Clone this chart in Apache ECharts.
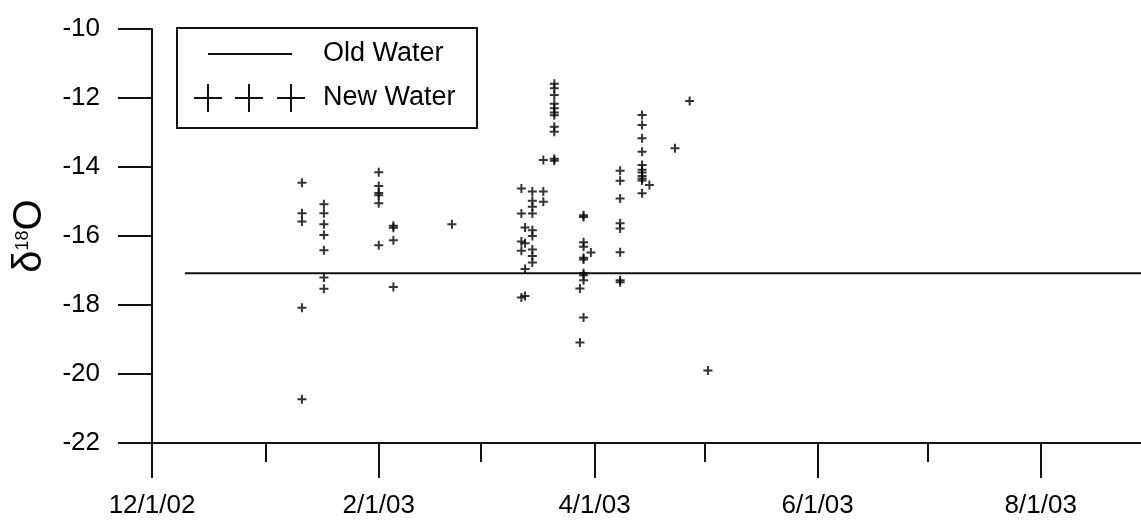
<!DOCTYPE html>
<html>
<head>
<meta charset="utf-8">
<script src="https://cdn.jsdelivr.net/npm/echarts@6/dist/echarts.min.js"></script>
<style>
  html, body { margin: 0; padding: 0; background: #fff; }
  #chart { width: 1141px; height: 521px; }
</style>
</head>
<body>
<div id="chart"></div>
<script>
// Sampling dates and measured delta-18O values of new water at each date
const sampleDates = [
  '2003-01-11', '2003-01-17', '2003-02-01', '2003-02-05', '2003-02-21',
  '2003-03-12', '2003-03-13', '2003-03-15', '2003-03-18', '2003-03-21',
  '2003-03-28', '2003-03-29', '2003-03-31', '2003-04-08', '2003-04-14',
  '2003-04-16', '2003-04-23', '2003-04-27', '2003-05-02'
];
const newWaterValues = [
  [-14.46, -15.34, -15.58, -18.08, -20.73],
  [-15.08, -15.34, -15.66, -15.97, -16.41, -17.20, -17.53],
  [-14.15, -14.55, -14.75, -14.82, -15.05, -16.27],
  [-15.70, -15.76, -16.12, -17.48],
  [-15.66],
  [-14.62, -15.35, -16.16, -16.43, -17.78],
  [-15.75, -16.21, -16.96, -17.74],
  [-14.71, -14.98, -15.15, -15.35, -15.83, -16.00, -16.39, -16.58, -16.77],
  [-13.80, -14.71, -15.01],
  [-11.59, -11.72, -11.91, -12.17, -12.30, -12.42, -12.50, -12.83, -12.98, -13.76, -13.82],
  [-17.52, -19.09],
  [-15.40, -15.45, -16.18, -16.31, -16.63, -16.68, -17.08, -17.14, -17.28, -18.36],
  [-16.48],
  [-14.11, -14.40, -14.91, -15.63, -15.78, -16.47, -17.28, -17.34],
  [-12.49, -12.78, -13.17, -13.56, -13.94, -14.08, -14.16, -14.26, -14.33, -14.39, -14.76],
  [-14.52],
  [-13.46],
  [-12.09],
  [-19.90]
];

// Old water reference value and the span it is drawn over
const oldWaterValue = -17.08;
const oldWaterDates = ['2002-12-10', '2003-09-01'];

// Axis ticks
const majorTickDates = ['2002-12-01', '2003-02-01', '2003-04-01', '2003-06-01', '2003-08-01'];
const minorTickDates = ['2003-01-01', '2003-03-01', '2003-05-01', '2003-07-01'];
const yTicks = [-22, -20, -18, -16, -14, -12, -10];

// Dates are placed on a linear axis as millisecond timestamps
function ts(s) {
  const p = s.split('-').map(Number);
  return new Date(p[0], p[1] - 1, p[2]).getTime();
}
function fmtDate(v) {
  const d = new Date(v);
  return (d.getMonth() + 1) + '/' + d.getDate() + '/' + String(d.getFullYear()).slice(2);
}

const newWaterPoints = [];
sampleDates.forEach((d, i) => {
  newWaterValues[i].forEach(v => newWaterPoints.push([ts(d), v]));
});
const oldWaterPoints = oldWaterDates.map(d => [ts(d), oldWaterValue]);

const xMin = ts('2002-12-01');
const xMax = new Date(2003, 7, 28, 10).getTime();
const FONT = '"Liberation Sans", Arial, sans-serif';
const INK = '#111';

const plusPath = 'path://M3.5,0h2v9h-2z M0,3.5h9v2h-9z';

// Legend key: one line sample and three plus marks
const keyLine = { type: 'line', shape: { x1: 31, y1: 26, x2: 115, y2: 26 }, style: { stroke: INK, lineWidth: 2 } };
const keyPluses = [31, 72, 114].flatMap(cx => [
  { type: 'line', shape: { x1: cx - 14, y1: 70, x2: cx + 14, y2: 70 }, style: { stroke: INK, lineWidth: 2 } },
  { type: 'line', shape: { x1: cx, y1: 56, x2: cx, y2: 84 }, style: { stroke: INK, lineWidth: 2 } }
]);

const chart = echarts.init(document.getElementById('chart'), null, { renderer: 'canvas' });
chart.setOption({
  animation: false,
  backgroundColor: '#fff',
  grid: { left: 152, top: 29, right: 0, bottom: 78, containLabel: false, outerBoundsMode: 'none' },
  xAxis: [
    {
      type: 'value',
      min: xMin,
      max: xMax,
      axisLine: { show: true, lineStyle: { color: INK, width: 2 } },
      axisTick: {
        show: true, length: 35, customValues: majorTickDates.map(ts),
        lineStyle: { color: INK, width: 2 }
      },
      axisLabel: {
        show: true, customValues: majorTickDates.map(ts), formatter: fmtDate,
        margin: 50, color: '#000', fontSize: 26, fontFamily: FONT
      },
      splitLine: { show: false }
    },
    {
      type: 'value',
      min: xMin,
      max: xMax,
      position: 'bottom',
      axisLine: { show: false },
      axisTick: {
        show: true, length: 19, customValues: minorTickDates.map(ts),
        lineStyle: { color: INK, width: 2 }
      },
      axisLabel: { show: false },
      splitLine: { show: false }
    }
  ],
  yAxis: {
    type: 'value',
    min: yTicks[0],
    max: yTicks[yTicks.length - 1],
    interval: 2,
    name: '{d|δ}{s|18}{o|O}',
    nameLocation: 'middle',
    nameRotate: 90,
    nameGap: 102,
    nameTextStyle: {
      color: '#000',
      fontFamily: FONT,
      rich: {
        d: { fontSize: 40, fontFamily: FONT, color: '#000' },
        s: { fontSize: 18, fontFamily: FONT, color: '#000', verticalAlign: 'top', padding: [4, 0, 0, 0] },
        o: { fontSize: 40, fontFamily: FONT, color: '#000' }
      }
    },
    axisLine: { show: true, lineStyle: { color: INK, width: 2 } },
    axisTick: { show: true, length: 34, lineStyle: { color: INK, width: 2 } },
    axisLabel: { margin: 52, color: '#000', fontSize: 26, fontFamily: FONT },
    splitLine: { show: false }
  },
  series: [
    {
      name: 'Old Water',
      type: 'line',
      data: oldWaterPoints,
      showSymbol: false,
      symbol: 'none',
      clip: true,
      lineStyle: { color: INK, width: 2 },
      z: 2
    },
    {
      name: 'New Water',
      type: 'scatter',
      data: newWaterPoints,
      symbol: plusPath,
      symbolSize: 9,
      itemStyle: { color: '#000' },
      z: 3
    }
  ],
  graphic: [
    {
      type: 'group',
      left: 176,
      top: 27,
      children: [
        { type: 'rect', shape: { x: 0, y: 0, width: 300, height: 100 },
          style: { fill: '#fff', stroke: INK, lineWidth: 2 } },
        keyLine,
        { type: 'text', x: 146, y: 26,
          style: { text: 'Old Water', font: '27px ' + FONT, fill: '#000', verticalAlign: 'middle' } },
        ...keyPluses,
        { type: 'text', x: 146, y: 70,
          style: { text: 'New Water', font: '27px ' + FONT, fill: '#000', verticalAlign: 'middle' } }
      ]
    }
  ]
});
</script>
</body>
</html>
